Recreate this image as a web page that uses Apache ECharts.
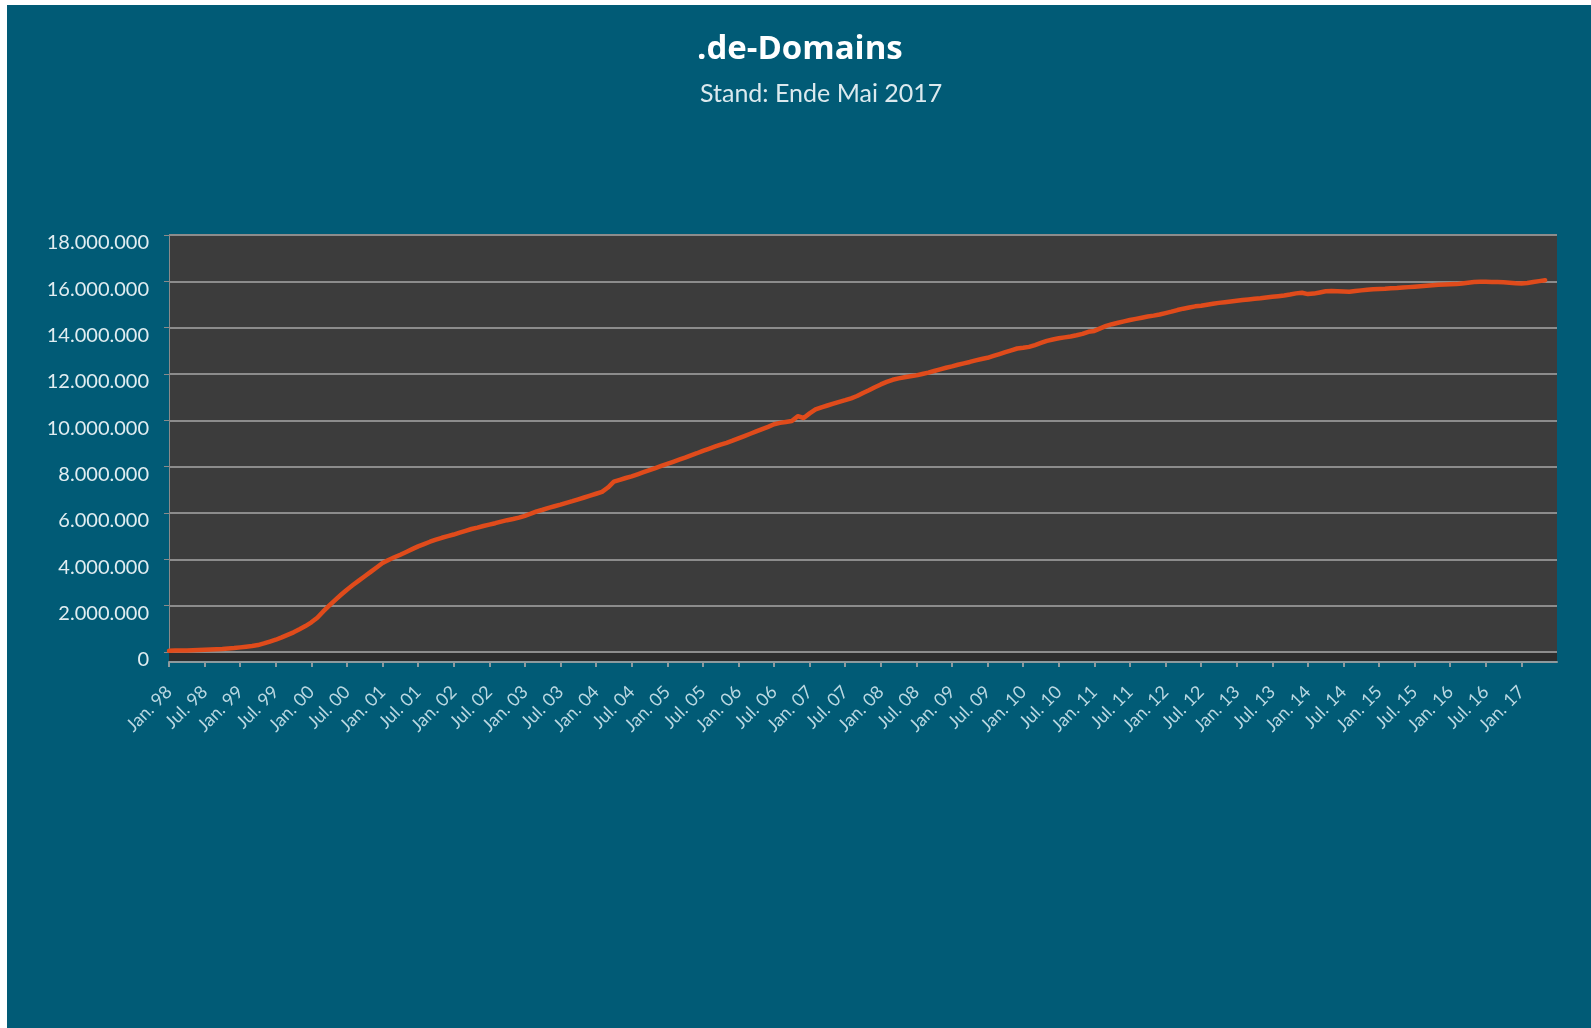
<!DOCTYPE html>
<html>
<head>
<meta charset="utf-8">
<script src="https://cdn.jsdelivr.net/npm/echarts@6/dist/echarts.min.js"></script>
<style>
html,body{margin:0;padding:0;background:#ffffff;}
#wrap{position:absolute;left:7px;top:5px;width:1584px;height:1023px;background:#015b76;}
#chart{width:1584px;height:1023px;}
</style>
</head>
<body>
<div id="wrap"><div id="chart"></div></div>
<script>
// ---- data ----
const titleText = '.de-Domains';
const subtitleText = 'Stand: Ende Mai 2017';
const monthNames = ['Jan.','Feb.','Mär.','Apr.','Mai','Jun.','Jul.','Aug.','Sep.','Okt.','Nov.','Dez.'];
const firstYear = 1998;
const categoryCount = 235; // Jan. 98 .. Jul. 17 (axis extent)
const lastLabelIndex = 228; // Jan. 17

// monthly .de domain count, Jan. 1998 .. May 2017
const domains = [
  50000, 60000, 60000, 70000, 80000, 90000, 100000, 110000, 120000, 130000, 150000, 170000,
  200000, 230000, 260000, 300000, 370000, 450000, 530000, 630000, 740000, 850000, 980000, 1120000,
  1280000, 1480000, 1750000, 2000000, 2240000, 2470000, 2690000, 2890000, 3080000, 3270000, 3460000, 3650000,
  3840000, 3970000, 4090000, 4200000, 4320000, 4440000, 4560000, 4660000, 4760000, 4850000, 4930000, 5000000,
  5070000, 5150000, 5230000, 5310000, 5370000, 5440000, 5500000, 5560000, 5630000, 5690000, 5740000, 5800000,
  5880000, 5970000, 6070000, 6140000, 6220000, 6290000, 6360000, 6440000, 6510000, 6590000, 6670000, 6750000,
  6830000, 6910000, 7100000, 7350000, 7430000, 7510000, 7580000, 7670000, 7760000, 7850000, 7940000, 8030000,
  8120000, 8210000, 8300000, 8390000, 8490000, 8580000, 8680000, 8770000, 8860000, 8950000, 9030000, 9120000,
  9220000, 9320000, 9420000, 9520000, 9620000, 9720000, 9830000, 9890000, 9930000, 9970000, 10180000, 10100000,
  10300000, 10470000, 10560000, 10640000, 10720000, 10800000, 10870000, 10950000, 11050000, 11180000, 11300000, 11430000,
  11550000, 11660000, 11750000, 11810000, 11860000, 11900000, 11940000, 12000000, 12060000, 12130000, 12200000, 12270000,
  12330000, 12400000, 12460000, 12520000, 12590000, 12650000, 12700000, 12780000, 12860000, 12940000, 13020000, 13100000,
  13130000, 13170000, 13250000, 13340000, 13430000, 13490000, 13540000, 13580000, 13620000, 13670000, 13730000, 13820000,
  13860000, 13970000, 14080000, 14150000, 14210000, 14270000, 14330000, 14380000, 14430000, 14480000, 14520000, 14570000,
  14630000, 14690000, 14760000, 14820000, 14870000, 14920000, 14950000, 14990000, 15030000, 15070000, 15100000, 15130000,
  15160000, 15190000, 15220000, 15250000, 15270000, 15300000, 15330000, 15360000, 15390000, 15430000, 15480000, 15510000,
  15450000, 15470000, 15520000, 15570000, 15580000, 15570000, 15560000, 15550000, 15580000, 15610000, 15640000, 15660000,
  15670000, 15680000, 15700000, 15710000, 15730000, 15750000, 15770000, 15790000, 15810000, 15830000, 15850000, 15860000,
  15870000, 15880000, 15910000, 15940000, 15970000, 15980000, 15980000, 15970000, 15970000, 15960000, 15940000, 15920000,
  15910000, 15930000, 15970000, 16010000, 16050000
];

const yMin = 0, yMax = 18000000, yStep = 2000000;

// ---- build categories ----
const categories = [];
for (let i = 0; i < categoryCount; i++) {
  const y = (firstYear + Math.floor(i / 12)) % 100;
  categories.push(monthNames[i % 12] + ' ' + String(y).padStart(2, '0'));
}
const showIdx = (idx) => idx % 6 === 0 && idx <= lastLabelIndex;
const fmt = (v) => String(v).replace(/\B(?=(\d{3})+(?!\d))/g, '.');

const chart = echarts.init(document.getElementById('chart'), null, {renderer: 'canvas'});
chart.setOption({
  backgroundColor: '#015b76',
  animation: false,
  title: [
    { text: titleText, left: 685, top: 23,
      textStyle: { color: '#ffffff', fontFamily: 'Open Sans', fontWeight: 'bold', fontSize: 33 } },
    { text: subtitleText, left: 688, top: 71,
      textStyle: { color: '#dbe9ee', fontFamily: 'Lato', fontWeight: 'normal', fontSize: 25 } }
  ],
  grid: {
    left: 162, right: 34, top: 230, bottom: 376,
    show: true, backgroundColor: '#3c3c3c', borderWidth: 0, containLabel: false
  },
  xAxis: [
    {
      type: 'category', data: categories, boundaryGap: false, position: 'bottom', offset: 5,
      axisLine: { show: true, onZero: false, lineStyle: { color: '#2d2d2d', width: 8, cap: 'butt' } },
      axisTick: { show: false }, axisLabel: { show: false }, splitLine: { show: false }, z: 1
    },
    {
      type: 'category', data: categories, boundaryGap: false, position: 'bottom', offset: 10,
      axisLine: { show: true, onZero: false, lineStyle: { color: '#8e9a9e', width: 2 } },
      axisTick: { show: true, interval: showIdx, length: 5, lineStyle: { color: '#8e9a9e', width: 2 } },
      axisLabel: {
        show: true, interval: showIdx, rotate: 45, margin: 27,
        color: '#bad8e2', fontFamily: 'Lato', fontSize: 18
      },
      splitLine: { show: false }
    }
  ],
  yAxis: {
    type: 'value', min: yMin, max: yMax, interval: yStep,
    axisLine: { show: true, lineStyle: { color: '#8a8a8a', width: 1 } },
    axisTick: { show: true, length: 5, lineStyle: { color: '#8a8a8a' } },
    axisLabel: {
      color: '#e1edf1', fontFamily: 'Lato', fontSize: 20, margin: 20,
      verticalAlign: 'top', lineHeight: 16, formatter: fmt
    },
    splitLine: { show: true, lineStyle: { color: '#8c8c8c', width: 2 } }
  },
  series: [{
    type: 'line', name: '.de-Domains', data: domains, xAxisIndex: 0,
    showSymbol: false, smooth: false,
    lineStyle: { color: '#e04b1b', width: 4.5, cap: 'round', join: 'round' },
    itemStyle: { color: '#e04b1b' }, z: 5
  }]
});
</script>
</body>
</html>
